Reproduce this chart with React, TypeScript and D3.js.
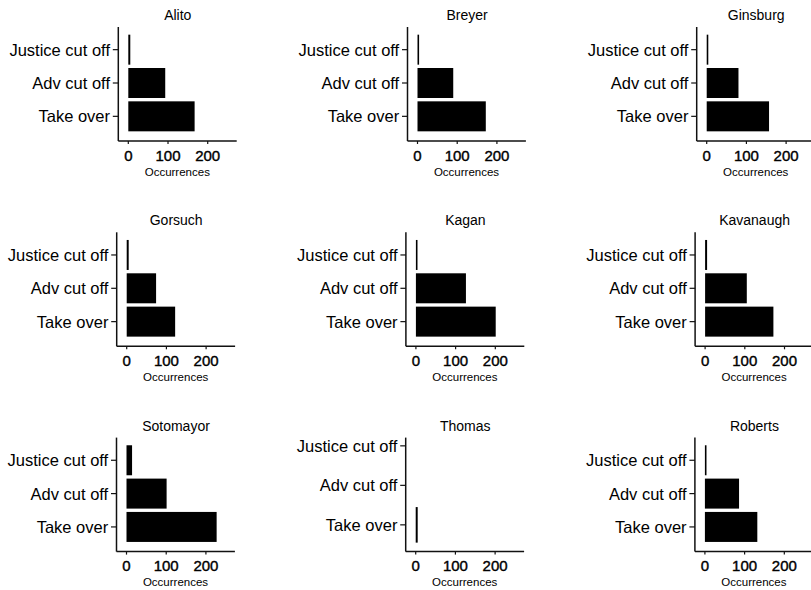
import React from "react";
import * as d3 from "d3";

const justices = ["Alito", "Breyer", "Ginsburg", "Gorsuch", "Kagan", "Kavanaugh", "Sotomayor", "Thomas", "Roberts"];
const categories = ["Justice cut off", "Adv cut off", "Take over"];
const justiceCutOff: (number | null)[] = [5, 4, 4, 5, 4, 5, 14, null, 4];
const advCutOff: (number | null)[] = [93, 90, 80, 74, 126, 105, 101, null, 86];
const takeOver: (number | null)[] = [167, 172, 157, 122, 201, 172, 227, 5, 132];
const xTicks = [0, 100, 200];
const xLabel = "Occurrences";

const W = 811;
const H = 590;
const FONT = "'Liberation Sans', Arial, Helvetica, sans-serif";

const rowShift = [0, -1.6, -1.8];

function Panel({ idx }: { idx: number }) {
  const col = idx % 3;
  const row = Math.floor(idx / 3);
  const axisX = 118.3 + 289.2 * col + rowShift[row];
  const axisY = 141 + 205.3 * row;
  const vals = [justiceCutOff[idx], advCutOff[idx], takeOver[idx]];
  const missing = vals.some((v) => v === null);

  const x = d3.scaleLinear().domain([-25.2, 273]).range([axisX, axisX + 118.4]);
  const y = d3
    .scaleBand<string>()
    .domain(categories)
    .range(missing ? [axisY - 125.5, axisY - 7] : [axisY - 108, axisY - 8])
    .paddingInner(0.1)
    .paddingOuter(0.05);

  return (
    <g>
      <text x={axisX + 59.5} y={axisY - 121} textAnchor="middle" fontSize={14} fontFamily={FONT} fill="#000">
        {justices[idx]}
      </text>
      {categories.map((c, i) => {
        const v = vals[i];
        if (v === null) return null;
        return (
          <rect
            key={c}
            x={x(0)}
            y={y(c)!}
            width={Math.max(0, x(v) - x(0))}
            height={y.bandwidth()}
            fill="#000"
          />
        );
      })}
      {/* y axis */}
      <line x1={axisX} x2={axisX} y1={axisY - 114} y2={axisY} stroke="#111" strokeWidth={1.5} />
      {categories.map((c) => {
        const cy = y(c)! + y.bandwidth() / 2;
        return (
          <g key={c}>
            <line x1={axisX - 5.5} x2={axisX} y1={cy} y2={cy} stroke="#111" strokeWidth={1.2} />
            <text
              x={axisX - 8.3}
              y={cy}
              dy="0.36em"
              textAnchor="end"
              fontSize={16.5}
              fontFamily={FONT}
              fill="#000"
            >
              {c}
            </text>
          </g>
        );
      })}
      {/* x axis */}
      <line x1={axisX} x2={axisX + 118.4} y1={axisY} y2={axisY} stroke="#111" strokeWidth={1.5} />
      {xTicks.map((t) => (
        <g key={t}>
          <line x1={x(t)} x2={x(t)} y1={axisY} y2={axisY + 3} stroke="#111" strokeWidth={1.2} />
          <text
            x={x(t)}
            y={axisY + 19.5}
            textAnchor="middle"
            fontSize={15}
            fontFamily={FONT}
            fill="#000"
            stroke="#000"
            strokeWidth={0.4}
          >
            {t}
          </text>
        </g>
      ))}
      <text x={axisX + 59} y={axisY + 34.5} textAnchor="middle" fontSize={11.5} fontFamily={FONT} fill="#000">
        {xLabel}
      </text>
    </g>
  );
}

export default function App() {
  return (
    <svg
      width={W}
      height={H}
      viewBox={`0 0 ${W} ${H}`}
      style={{ position: "absolute", left: 0, top: 0, background: "#fff" }}
    >
      <rect x={0} y={0} width={W} height={H} fill="#fff" />
      {justices.map((_, i) => (
        <Panel key={i} idx={i} />
      ))}
    </svg>
  );
}
